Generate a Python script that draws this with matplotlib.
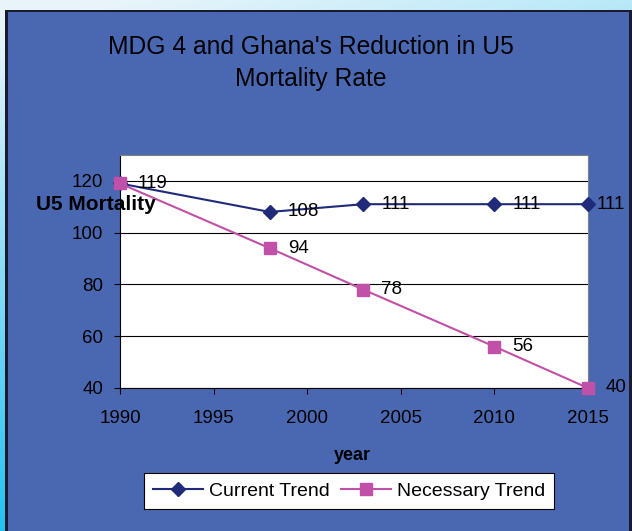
import numpy as np
import matplotlib
matplotlib.use("Agg")
import matplotlib.pyplot as plt
from matplotlib.patches import Rectangle

plt.rcParams["font.family"] = ["Liberation Sans", "DejaVu Sans"]

years = [1990, 1998, 2003, 2010, 2015]
current = [119, 108, 111, 111, 111]
necessary = [119, 94, 78, 56, 40]
xticks = [1990, 1995, 2000, 2005, 2010, 2015]
yticks = [40, 60, 80, 100, 120]

W, H = 632, 531
fig = plt.figure(figsize=(W / 100, H / 100), dpi=100)

# light-to-cyan background behind the panel
bg = fig.add_axes([0, 0, 1, 1], zorder=-10)
gx, gy = np.meshgrid(np.linspace(0, 1, 200), np.linspace(0, 1, 200))
t = np.clip(0.9 * gy + 0.25 * (1 - gx) - 0.1, 0, 1)
c0 = np.array([0.0, 0.72, 0.94])
c1 = np.array([0.91, 0.96, 0.98])
img = c0[None, None, :] * (1 - t[..., None]) + c1[None, None, :] * t[..., None]
bg.imshow(img, origin="lower", extent=[0, 1, 0, 1], aspect="auto")
bg.axis("off")

# blue panel with dark edge
fig.patches.append(Rectangle((5 / W, -0.02), 627 / W, (H - 10) / H + 0.02,
                             transform=fig.transFigure, facecolor="#1a1a2e", edgecolor="none", zorder=-5))
fig.patches.append(Rectangle((7.5 / W, -0.02), 621 / W, (H - 12) / H + 0.02,
                             transform=fig.transFigure, facecolor="#4a68b2", edgecolor="none", zorder=-4))

ax = fig.add_axes([120 / W, (H - 388) / H, 468 / W, 233 / H])
ax.set_facecolor("white")
for s in ax.spines.values():
    s.set_color("#808080")
ax.spines["bottom"].set_color("black")
ax.spines["left"].set_color("black")

ax.plot(years, current, color="#1f2a78", lw=1.5, marker="D", ms=7, clip_on=False, zorder=4,
        label="Current Trend")
ax.plot(years, necessary, color="#c050a8", lw=1.5, marker="s", ms=8, clip_on=False, zorder=5,
        label="Necessary Trend")

for x, y in zip(years, current):
    if x == 1990:
        continue
    ax.annotate(str(y), (x, y), xytext=(13 if x != 2015 else 6.5, 0), textcoords="offset points",
                va="center", fontsize=13.5, zorder=6)
for x, y in zip(years, necessary):
    ax.annotate(str(y), (x, y), xytext=(13, 0), textcoords="offset points",
                va="center", fontsize=13.5, zorder=6)

ax.set_xlim(1990, 2015)
ax.set_ylim(40, 130)
ax.set_xticks(xticks)
ax.set_yticks(yticks)
ax.yaxis.grid(True, color="black", lw=0.8)
ax.tick_params(axis="both", labelsize=13.5, colors="black", length=4, direction="out")
ax.tick_params(axis="x", pad=12)
ax.tick_params(axis="y", pad=8)

fig.text(352 / W, 1 - 456 / H, "year", ha="center", va="center", fontsize=13, fontweight="bold")
fig.text(96 / W, 1 - 204 / H, "U5 Mortality", ha="center", va="center", fontsize=15,
         fontweight="bold", zorder=10)
fig.text(311 / W, 1 - 63 / H, "MDG 4 and Ghana's Reduction in U5\nMortality Rate", ha="center",
         va="center", fontsize=17.7, linespacing=1.45)

leg = ax.legend(loc="center", bbox_to_anchor=(349 / W, 1 - 491 / H), bbox_transform=fig.transFigure,
                ncol=2, fontsize=14, frameon=True, fancybox=False, handlelength=2.6,
                columnspacing=0.55, handletextpad=0.3, borderpad=0.45, borderaxespad=0)
leg.get_frame().set_edgecolor("black")
leg.get_frame().set_linewidth(0.8)
leg.get_frame().set_alpha(1)

fig.savefig("out.png", dpi=100)
